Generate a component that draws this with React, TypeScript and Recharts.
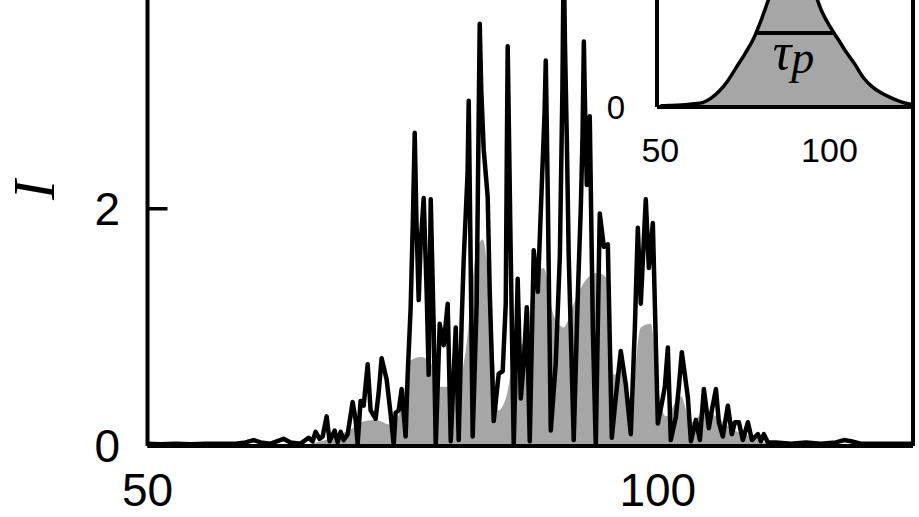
import React from 'react';
import { ComposedChart, Line, Area, XAxis, YAxis, ReferenceLine } from 'recharts';

// main trace: time axis and instantaneous intensity I
const mainT = [
  50, 51.27, 52.75, 54.22, 55.69, 57.16, 58.63, 59.61, 60.39, 61.08, 62.06, 63.33, 64.02, 65.0,
  65.78, 66.18, 66.47, 66.86, 67.16, 67.55, 67.84, 68.33, 68.63, 68.92, 69.22, 69.61, 70.1, 70.39,
  70.59, 70.88, 71.18, 71.57, 71.86, 72.35, 72.65, 72.94, 73.43, 73.82, 74.12, 74.31, 74.61, 74.9,
  75.29, 75.49, 75.78, 76.0, 76.18, 76.35, 76.57, 76.76, 77.06, 77.35, 77.55, 77.75, 78.04, 78.24,
  78.63, 79.02, 79.41, 79.71, 80.2, 80.49, 80.78, 80.98, 81.36, 81.47, 81.6, 81.86,
  82.25, 82.45, 82.55, 82.7, 82.94, 83.33, 83.53, 83.92, 84.41, 84.8,
  85.1, 85.2, 85.29, 85.42, 85.59, 85.88, 86.27, 86.57, 86.86, 87.16, 87.45, 87.84, 88.24, 88.63,
  88.9, 89.02, 89.12, 89.22, 89.51, 90.0, 90.4, 90.65, 90.78, 90.9, 91.08, 91.27, 91.76,
  92.16, 92.45, 92.62, 92.75, 92.88, 93.04, 93.33, 93.63, 93.92, 94.31,
  94.71, 95.1, 95.49, 95.88, 96.37, 96.86, 97.35, 97.75, 98.04, 98.33, 98.82, 99.12, 99.51, 100.0,
  100.39, 100.69, 100.98, 101.27, 101.76, 102.06, 102.35, 102.65, 102.94, 103.24, 103.73, 104.12,
  104.51, 105.0, 105.29, 105.69, 105.98, 106.37, 106.86, 107.25, 107.55, 107.94, 108.33, 108.82,
  109.22, 109.8, 110.1, 110.39, 110.78, 111.57, 113.04, 114.51, 115.98, 117.45, 118.24, 118.92,
  119.9, 121.86, 123.33, 125,
];
const mainI = [
  0.02, 0.015, 0.02, 0.015, 0.02, 0.02, 0.02, 0.03, 0.05, 0.03, 0.02, 0.06, 0.03, 0.02,
  0.07, 0.04, 0.12, 0.06, 0.08, 0.25, 0.04, 0.13, 0.03, 0.12, 0.05, 0.1, 0.37, 0.22,
  0.02, 0.38, 0.34, 0.69, 0.3, 0.23, 0.45, 0.74, 0.56, 0.27, 0.01, 0.28, 0.3, 0.48,
  0.08, 0.6, 1.16, 1.9, 2.64, 1.9, 1.23, 1.7, 2.09, 1.3, 0.6, 2.08, 1.0, 0.0,
  1.03, 0.85, 1.2, 0.04, 1.0, 0.05, 1.05, 1.57, 2.3, 2.91, 2.0, 0.08,
  1.2, 2.8, 3.56, 3.0, 2.5, 2.1, 1.3, 0.21, 0.61, 0.63,
  1.2, 2.4, 3.37, 2.6, 1.6, 0.0, 1.41, 0.4, 0.7, 1.17, 0.04, 1.65, 1.3, 2.2,
  2.8, 3.25, 2.7, 2.1, 0.13, 0.7, 1.6, 3.0, 4.2, 3.4, 2.6, 1.6, 0.05,
  1.27, 2.0, 2.6, 3.41, 2.8, 2.2, 2.78, 1.0, 0.0, 1.96,
  1.68, 1.7, 0.07, 0.41, 0.8, 0.52, 0.1, 1.0, 1.84, 1.2, 2.08, 1.5, 1.88, 0.19,
  0.36, 0.5, 0.83, 0.05, 0.24, 0.5, 0.79, 0.6, 0.41, 0.04, 0.22, 0.05,
  0.48, 0.15, 0.3, 0.48, 0.2, 0.08, 0.34, 0.1, 0.2, 0.2, 0.05, 0.2,
  0.05, 0.1, 0.04, 0.1, 0.03, 0.03, 0.02, 0.03, 0.02, 0.03, 0.05, 0.04,
  0.02, 0.02, 0.02, 0.02,
];

// smoothed envelope (grey fill)
const envT = [
  50, 65, 66.96, 68.92, 70.1, 70.88, 72.35, 73.82, 74.8, 75.78, 76.76, 77.75, 78.73, 80.2, 81.18,
  82.16, 82.84, 83.63, 84.41, 85.1, 86.08, 87.06, 87.84, 88.82, 89.8, 90.78, 91.76, 92.94, 94.12,
  95.1, 95.69, 96.37, 97.35, 98.33, 99.31, 100, 100.78, 102.25, 103.24, 104.71, 105.69, 107.16,
  109.12, 111.08, 125,
];
const envI = [
  0.01, 0.01, 0.04, 0.1, 0.15, 0.2, 0.22, 0.18, 0.3, 0.72, 0.75, 0.7, 0.5, 0.5, 0.8,
  1.6, 1.74, 1.2, 0.3, 0.4, 0.8, 0.9, 1.4, 1.5, 1.1, 1.0, 1.2, 1.4, 1.46,
  1.4, 0.6, 0.64, 0.4, 1.0, 1.03, 0.5, 0.25, 0.42, 0.2, 0.3, 0.25, 0.15,
  0.08, 0.02, 0.01,
];

// inset: averaged pulse
const insetT = [
  50, 52.5, 55, 57.5, 60, 62.5, 65, 67.5, 70, 72.5, 75, 77.5, 80, 82.5, 85, 87.5,
  90, 92.5, 95, 97.5, 100, 102.5, 105, 107.5, 110, 112.5, 115, 117.5, 120, 122.5, 125,
];
const insetI = [
  0.008, 0.01, 0.012, 0.016, 0.022, 0.03, 0.06, 0.11, 0.18, 0.27, 0.36, 0.46, 0.6, 0.76, 0.9, 0.98,
  1.0, 0.96, 0.82, 0.66, 0.55, 0.46, 0.37, 0.29, 0.2, 0.14, 0.1, 0.07, 0.045, 0.025, 0.014,
];
const tauP = [78.7, 101.2];
const tauLevel = 0.5;

const xTicks = [50, 100];
const yTicks = [0, 2];
const insetYTicks = [0];

const SANS = '"Liberation Sans", Arial, sans-serif';
const SERIF = '"Liberation Serif", "Times New Roman", serif';
const axisStyle = { stroke: '#000', strokeWidth: 4 };

const mainData = mainT.map((t, i) => ({ t, I: mainI[i] }));
const envData = envT.map((t, i) => ({ t, I: envI[i] }));
const insetData = insetT.map((t, i) => ({ t, I: insetI[i] }));

const YLabel = () => (
  <text
    x={54}
    y={190}
    textAnchor="middle"
    transform="rotate(-90 54 190)"
    fontFamily={SERIF}
    fontStyle="italic"
    fontSize={60}
    fill="#000"
  >
    I
  </text>
);

const TauLabel = (props: any) => {
  const vb = props.viewBox || { x: 0, y: 0, width: 0 };
  const cx = vb.x + (vb.width || 0) / 2;
  return (
    <text x={cx - 2} y={vb.y + 36} textAnchor="middle" fontFamily={SERIF} fontStyle="italic" fill="#000">
      <tspan fontSize={52}>τ</tspan>
      <tspan fontSize={46} dy={4}>p</tspan>
    </text>
  );
};

export default function App() {
  return (
    <div style={{ position: 'absolute', left: 0, top: 0, width: 919, height: 517, overflow: 'hidden', background: '#fff' }}>
      <div style={{ position: 'absolute', left: 0, top: 0 }}>
        <ComposedChart width={919} height={517} margin={{ top: 0, right: 0, bottom: 0, left: 47.5 }}>
          <XAxis
            dataKey="t"
            type="number"
            domain={[50, 125]}
            ticks={xTicks}
            allowDataOverflow
            height={71}
            tickLine={false}
            tickMargin={21}
            axisLine={axisStyle}
            tick={{ fill: '#000', fontSize: 46, fontFamily: SANS }}
          />
          <YAxis
            yAxisId="l"
            type="number"
            domain={[0, 3.76]}
            ticks={yTicks}
            allowDataOverflow
            width={100}
            tickSize={-20}
            tickMargin={47.5}
            axisLine={axisStyle}
            tickLine={{ stroke: '#000', strokeWidth: 3.5 }}
            tick={{ fill: '#000', fontSize: 46, fontFamily: SANS }}
            label={<YLabel />}
          />
          <YAxis
            yAxisId="r"
            orientation="right"
            type="number"
            domain={[0, 3.76]}
            width={6}
            tick={false}
            tickLine={false}
            axisLine={axisStyle}
          />
          <Area
            yAxisId="l"
            data={envData}
            dataKey="I"
            type="monotone"
            stroke="none"
            fill="#a6a6a6"
            fillOpacity={1}
            isAnimationActive={false}
          />
          <Line
            yAxisId="l"
            data={mainData}
            dataKey="I"
            type="linear"
            stroke="#000"
            strokeWidth={4.5}
            strokeLinejoin="round"
            dot={false}
            isAnimationActive={false}
          />
        </ComposedChart>
      </div>
      <div style={{ position: 'absolute', left: 0, top: -60 }}>
        <ComposedChart width={919} height={240} margin={{ top: 0, right: 5, bottom: 0, left: 557 }}>
          <XAxis
            dataKey="t"
            type="number"
            domain={[49, 125]}
            ticks={xTicks}
            allowDataOverflow
            height={73}
            tickLine={false}
            tickMargin={25}
            axisLine={axisStyle}
            tick={{ fill: '#000', fontSize: 34, fontFamily: SANS }}
          />
          <YAxis
            type="number"
            domain={[0, 1.13]}
            ticks={insetYTicks}
            allowDataOverflow
            width={100}
            tickLine={false}
            tickMargin={26}
            axisLine={axisStyle}
            tick={{ fill: '#000', fontSize: 33, fontFamily: SANS }}
          />
          <Area
            data={insetData}
            dataKey="I"
            type="monotone"
            stroke="#000"
            strokeWidth={3.5}
            fill="#a6a6a6"
            fillOpacity={1}
            isAnimationActive={false}
          />
          <ReferenceLine
            segment={[
              { x: tauP[0], y: tauLevel },
              { x: tauP[1], y: tauLevel },
            ]}
            stroke="#000"
            strokeWidth={4}
            label={<TauLabel />}
          />
        </ComposedChart>
      </div>
    </div>
  );
}
